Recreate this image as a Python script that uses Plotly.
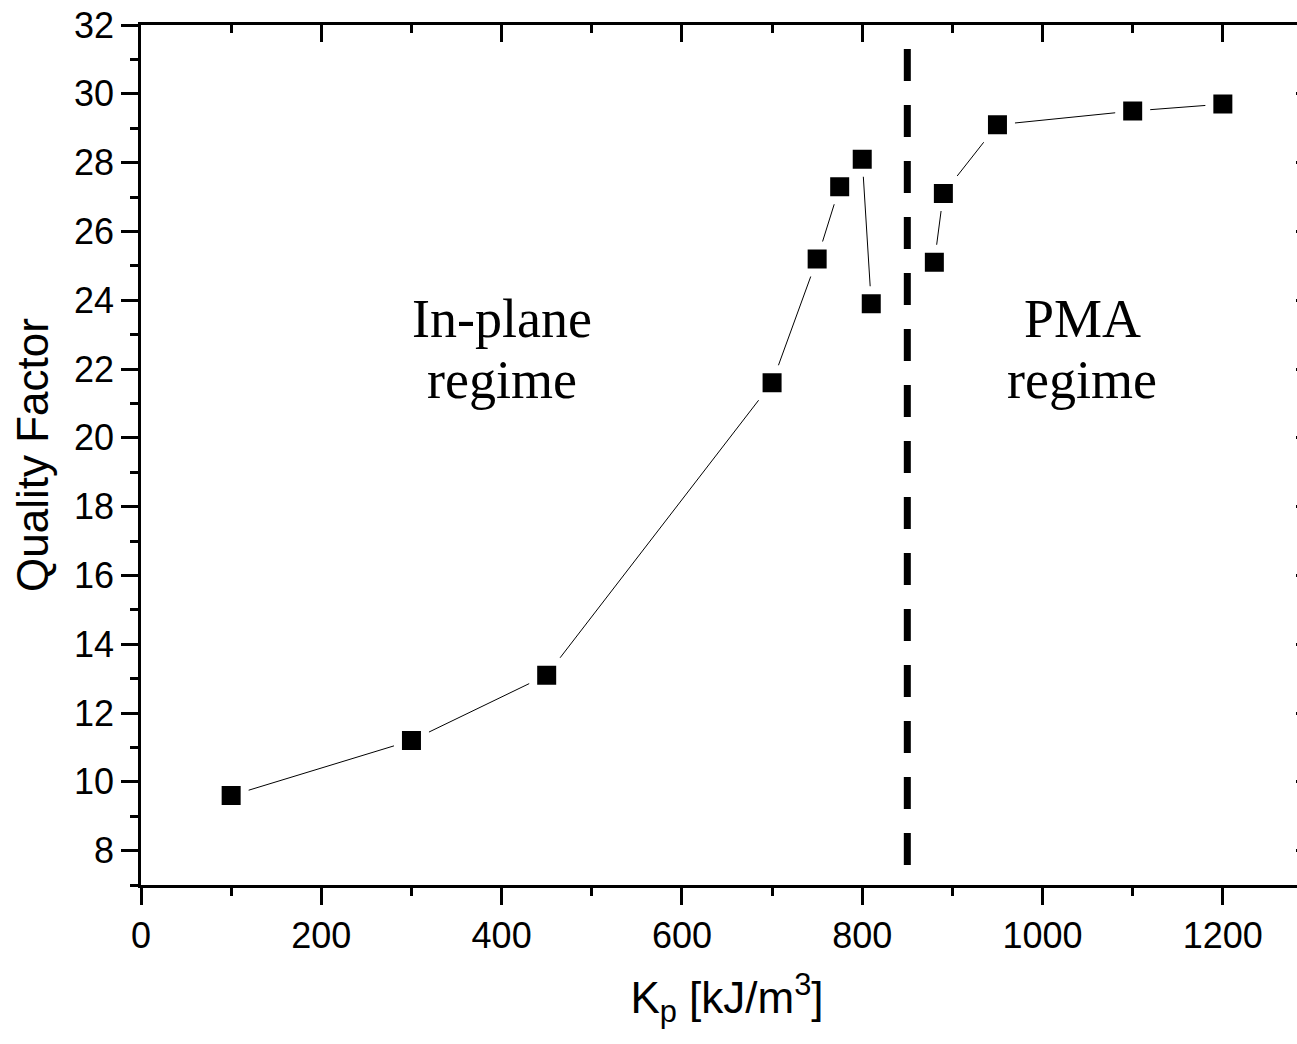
import plotly.graph_objects as go

# Data
kp_inplane = [100, 300, 450, 700, 750, 775, 800, 810]
quality_inplane = [9.6, 11.2, 13.1, 21.6, 25.2, 27.3, 28.1, 23.9]
kp_pma = [880, 890, 950, 1100, 1200]
quality_pma = [25.1, 27.1, 29.1, 29.5, 29.7]
boundary_x = 850
boundary_y = [31.3, 7.5]
x_range = [0, 1300]
y_range = [7, 32]
x_ticks = [0, 200, 400, 600, 800, 1000, 1200]
y_ticks = [8, 10, 12, 14, 16, 18, 20, 22, 24, 26, 28, 30, 32]
regime_labels = [
    ("In-plane", 400, 23.45),
    ("regime", 400, 21.68),
    ("PMA", 1044, 23.45),
    ("regime", 1044, 21.68),
]

W, H = 1313, 1044
ML, MT, MB = 141, 25, 159

fig = go.Figure()
for xs, ys in [(kp_inplane, quality_inplane), (kp_pma, quality_pma)]:
    fig.add_trace(go.Scatter(
        x=xs, y=ys, mode="lines+markers",
        line=dict(color="black", width=1),
        marker=dict(symbol="square", size=27, color="black",
                    line=dict(color="white", width=8)),
        showlegend=False, hoverinfo="x+y",
    ))
# invisible trace to activate the mirror axes (top/right)
fig.add_trace(go.Scatter(x=[None], y=[None], xaxis="x2", yaxis="y2",
                         showlegend=False, hoverinfo="skip"))

fig.add_shape(type="line", xref="x", yref="y",
              x0=boundary_x, x1=boundary_x, y0=boundary_y[0], y1=boundary_y[1],
              line=dict(color="black", width=7, dash="32px,24px"))

for txt, xx, yy in regime_labels:
    fig.add_annotation(x=xx, y=yy, xref="x", yref="y", text=txt, showarrow=False,
                       font=dict(family="Liberation Serif", size=54, color="black"),
                       xanchor="center", yanchor="middle")

tickfont = dict(family="Liberation Sans", size=36, color="black")
titlefont = dict(family="Liberation Sans", size=44, color="black")

fig.update_layout(
    width=W, height=H,
    margin=dict(l=ML, r=0, t=MT, b=MB, autoexpand=False),
    plot_bgcolor="white", paper_bgcolor="white",
    xaxis=dict(range=x_range, tickvals=x_ticks, ticktext=[str(v) for v in x_ticks],
               ticks="outside", ticklen=17, tickwidth=2.5, tickcolor="black",
               minor=dict(dtick=100, tick0=0, ticks="outside", ticklen=8, tickwidth=2.5, tickcolor="black"),
               showline=True, linewidth=2.5, linecolor="black",
               showgrid=False, zeroline=False, tickfont=tickfont,
               title=dict(text="K<sub>p</sub> [kJ/m<sup>3</sup>]", font=titlefont, standoff=28)),
    yaxis=dict(range=y_range, tickvals=y_ticks, ticktext=[str(v) for v in y_ticks],
               ticks="outside", ticklen=17, tickwidth=2.5, tickcolor="black",
               minor=dict(dtick=1, tick0=0, ticks="outside", ticklen=8, tickwidth=2.5, tickcolor="black"),
               showline=True, linewidth=2.5, linecolor="black",
               showgrid=False, zeroline=False, tickfont=tickfont,
               title=dict(text="Quality Factor", font=titlefont, standoff=12)),
    xaxis2=dict(range=x_range, overlaying="x", side="top", tickvals=x_ticks,
                showticklabels=False, ticks="inside", ticklen=17, tickwidth=2.5, tickcolor="black",
                minor=dict(dtick=100, tick0=0, ticks="inside", ticklen=8, tickwidth=2.5, tickcolor="black"),
                showline=True, linewidth=2.5, linecolor="black", showgrid=False, zeroline=False),
    yaxis2=dict(range=y_range, overlaying="y", side="right", tickvals=y_ticks,
                showticklabels=False, ticks="inside", ticklen=17, tickwidth=2.5, tickcolor="black",
                minor=dict(dtick=1, tick0=0, ticks="inside", ticklen=8, tickwidth=2.5, tickcolor="black"),
                showline=True, linewidth=2.5, linecolor="black", showgrid=False, zeroline=False),
)

fig.write_html("out.html", config={"displayModeBar": False},
               post_script="document.body.style.margin='0';document.body.style.overflow='hidden';")
